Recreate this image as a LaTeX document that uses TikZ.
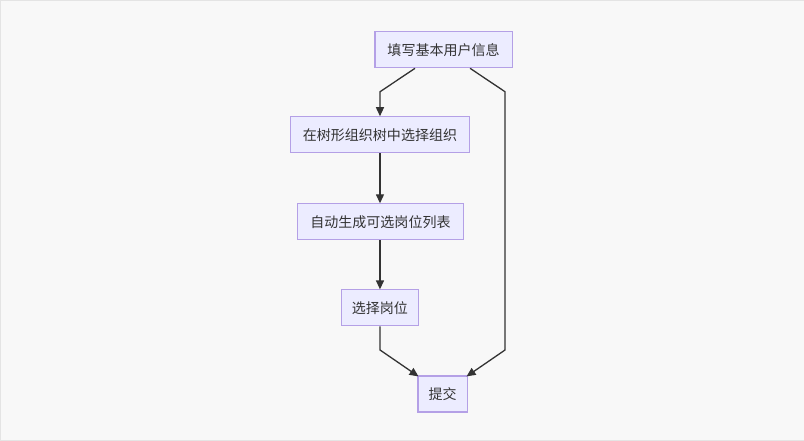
\documentclass[tikz,border=0pt]{standalone}
\usepackage{fontspec}
\newfontfamily\cjk{Noto Sans CJK SC}
\usetikzlibrary{arrows.meta}
\definecolor{boxfill}{HTML}{ECECFF}
\definecolor{boxline}{HTML}{B4A0E6}
\definecolor{ink}{HTML}{333333}
\definecolor{paper}{HTML}{F8F8F8}
\definecolor{frame}{HTML}{E4E4E4}

\begin{document}
\begin{tikzpicture}[x=1pt,y=-1pt,
    box/.style={draw=boxline,fill=boxfill,line width=1.1pt,inner sep=0pt,
        minimum height=36pt,font=\cjk\fontsize{14}{16}\selectfont,text=ink},
    flow/.style={draw=ink,line width=1.3pt,-{Triangle[length=9pt,width=8pt]}}]
            \draw [frame,fill=paper] (0.5,0.5) rectangle (803.5,440.5);
            % steps
            \node [box,minimum width=137pt] (info) at (443.5,50) {填写基本用户信息};
            \node [box,minimum width=178pt] (org) at (380,135) {在树形组织树中选择组织};
            \node [box,minimum width=165pt] (list) at (380.5,222) {自动生成可选岗位列表};
            \node [box,minimum width=77pt] (post) at (380,308) {选择岗位};
            \node [box,minimum width=49pt] (submit) at (442.5,394) {提交};
            % bends
            \coordinate (k1) at (380,92);
            \coordinate (k2) at (505,92);
            \coordinate (k3) at (505,350);
            \coordinate (k4) at (380,350);
            % links
            \draw [flow] ([xshift=-28.5pt]info.south) -- (k1) -- (org.north);
            \draw [flow] (org.south) -- (org.south |- list.north);
            \draw [flow] (list.south) -- (list.south -| post.north) -- (post.north);
            \draw [flow] ([xshift=26.5pt]info.south) -- (k2) -- (k3) -- ([xshift=24pt,yshift=-1pt]submit.north);
            \draw [flow] (post.south) -- (k4) -- ([xshift=-24pt,yshift=-1pt]submit.north);
\end{tikzpicture}
\end{document}
